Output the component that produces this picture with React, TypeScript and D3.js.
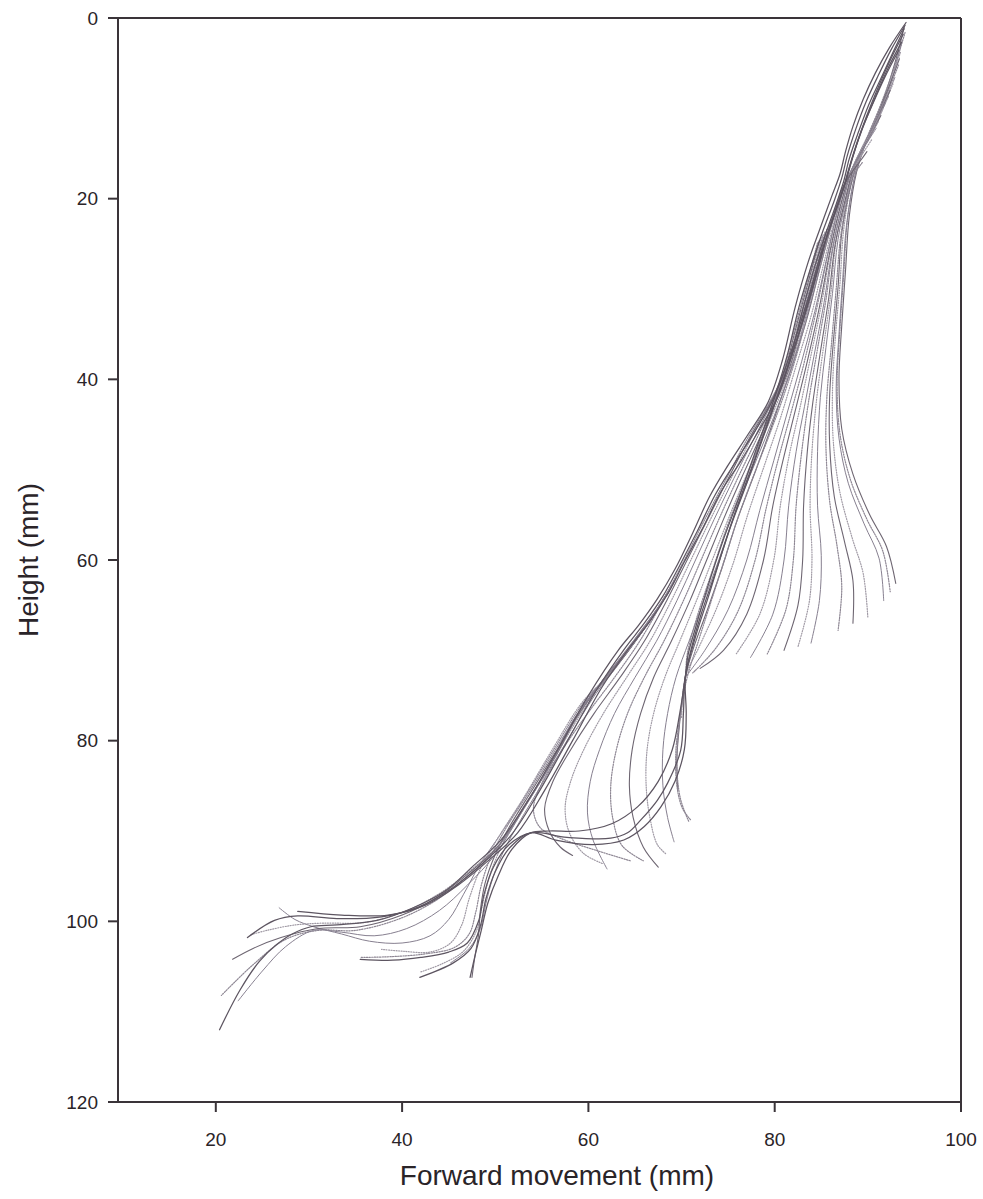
import React from "react";
import * as d3 from "d3";

type Pt = [number, number];

const xTicks = [20, 40, 60, 80, 100];
const yTicks = [0, 20, 40, 60, 80, 100, 120];
const xTitle = "Forward movement (mm)";
const yTitle = "Height (mm)";

// Upper "sail" strokes: tips near the top, bulging right, ending on the lower-right boundary
const upperSail: Pt[][] = [
  [[93.9,1.0],[92.9,5],[91.5,9.5],[89.9,13.5],[88.8,17],[88.0,22],[87.6,28],[87.2,34],[86.9,40],[87.2,45.5],[88.4,50.5],[90.2,55],[92.0,58.5],[93.0,62.6]],
  [[94.0,1.6],[92.8,5.6],[91.3,9.8],[89.7,13.8],[88.6,17.5],[87.8,22.5],[87.4,28.5],[87.0,34.5],[86.7,40.5],[87.0,46],[88.1,51],[89.9,55.5],[91.6,59],[92.4,63.5]],
  [[93.7,2.4],[92.7,6.3],[91.3,10.3],[89.6,14.2],[88.5,18],[87.7,23],[87.3,29],[86.9,35],[86.6,41],[86.9,46.5],[87.9,51.5],[89.6,56],[91.2,59.8],[91.7,64.5]],
  [[93.5,3.8],[92.4,7.3],[91.0,11],[89.3,15],[88.2,18.5],[87.4,23.5],[87.0,29.5],[86.5,35.5],[86.2,41.5],[86.3,47],[87.0,52.5],[88.3,57.5],[89.5,61.5],[90.0,66.4]],
  [[93.4,4.5],[92.2,7.8],[90.8,11.4],[89.1,15.2],[88.1,18.8],[87.2,23.8],[86.8,29.8],[86.3,35.8],[85.9,41.8],[85.9,47.2],[86.4,53],[87.5,58],[88.4,62.3],[88.4,67]],
  [[93.3,5.2],[92.1,8.3],[90.6,11.8],[89.0,15.5],[88.0,19],[87.1,24],[86.6,30],[86.1,36],[85.6,42],[85.5,47.5],[85.9,53.5],[86.7,58.5],[87.2,63],[86.8,67.8]],
  [[92.9,6.6],[91.8,9.3],[90.3,12.5],[88.7,16],[87.8,19.5],[86.8,24.5],[86.2,30.5],[85.5,36.5],[84.9,42],[84.6,48],[84.6,54],[85.0,59.5],[84.8,64.5],[83.9,69.2]],
  [[92.7,7.3],[91.6,9.8],[90.1,12.8],[88.6,16.2],[87.7,19.7],[86.6,24.7],[86.0,30.7],[85.2,36.7],[84.5,42.2],[84.0,48],[83.8,54],[84.0,60],[83.7,64.7],[82.5,69.6]],
  [[92.4,8.0],[91.4,10.3],[90.0,13.2],[88.5,16.5],[87.6,20],[86.5,25],[85.8,31],[84.9,37],[84.1,42.5],[83.5,48],[83.1,54],[83.0,60],[82.5,65],[81.0,70]],
  [[92.2,8.7],[91.2,10.8],[89.8,13.6],[88.3,16.7],[87.4,20.2],[86.3,25.2],[85.5,31.2],[84.5,37.2],[83.6,42.7],[82.9,48],[82.3,54],[82.0,60],[81.2,65.5],[79.2,70.4]],
  [[91.9,9.4],[91.0,11.4],[89.6,14],[88.2,17],[87.3,20.5],[86.2,25.5],[85.3,31.5],[84.2,37.5],[83.2,43],[82.3,48],[81.5,54],[81.0,60],[79.8,66],[77.4,70.8]],
  [[91.6,10.1],[90.8,11.9],[89.4,14.4],[88.1,17.2],[87.1,20.8],[86.0,25.8],[85.0,31.8],[83.8,37.8],[82.7,43.2],[81.6,48.2],[80.6,54],[79.9,60],[78.4,66],[75.8,70.5]],
  [[91.4,10.8],[90.6,12.4],[89.3,14.8],[88.0,17.5],[87.0,21],[85.9,26],[84.8,32],[83.5,38],[82.2,43.5],[81.0,48.5],[79.8,54],[78.8,60],[77.0,66],[74.5,70],[72.0,72]],
  [[91.1,11.5],[90.3,13],[89.1,15.2],[87.8,17.8],[86.8,21.2],[85.7,26.2],[84.5,32.2],[83.2,38],[81.8,43.5],[80.4,48.8],[79.1,54.2],[77.9,60],[76.0,65.8],[73.5,70],[71.2,72.5]],
  [[90.9,12.2],[90.1,13.5],[88.9,15.6],[87.7,18],[86.7,21.5],[85.6,26.5],[84.3,32.5],[82.9,38],[81.4,43.5],[79.9,49],[78.4,54.5],[77.0,60],[75.0,65.5],[72.5,70],[70.4,73]],
  [[90.4,13.5],[89.7,14.6],[88.6,16.4],[87.5,18.5],[86.5,22],[85.3,27],[83.9,33],[82.3,38.5],[80.7,44],[78.9,49.5],[77.1,55],[75.5,60.5],[73.7,65.5],[71.8,69.8],[70.4,73],[70.0,77.5]],
  [[89.9,14.8],[89.2,15.8],[88.2,17.2],[87.2,19],[86.2,22.5],[84.9,27.5],[83.4,33.5],[81.7,39],[79.9,44.5],[78.0,50],[76.0,55.5],[74.3,61],[72.6,66],[71.2,70],[70.4,73],[69.8,78],[69.5,82],[69.6,85.5]],
  [[89.4,16.0],[88.7,17],[87.8,18.3],[86.9,20],[85.9,23],[84.5,28],[82.9,34],[81.0,39.5],[79.1,45],[77.1,50.5],[75.0,56],[73.2,61.5],[71.6,66.5],[70.6,70.5],[70.4,73.5],[69.7,78.5],[69.5,83],[69.9,86.5],[70.8,89]],
];

// Strokes running through both knots (upper knot near 70/73, lower knot near 54/90)
const knotStrokes: Pt[][] = [
  [[93.8,1.8],[92.3,4.9],[90.9,8.2],[89.6,11.6],[88.5,15],[87.6,18.2],[86.7,20.8],[85.8,23.5],[84.7,27.5],[83.3,32.5],[81.6,38],[79.7,43.5],[77.8,49],[76.0,54],[74.4,59],[72.9,64],[71.5,68.5],[70.4,73],[70.2,77],[69.9,81.1],[68.5,84.7],[67.4,86.6],[65.6,88.8],[64.2,90.2],[62.4,90.8],[57.7,90.7],[53.8,90.2],[51.5,91.5],[49.8,94],[48.8,97],[48.2,100],[47,102.4],[45,103.4],[42,104],[39,104.3],[35.5,104.2]],
  [[93.6,2.7],[92.1,5.7],[90.7,9],[89.4,12.3],[88.3,15.6],[87.4,18.8],[86.5,21.4],[85.5,24.5],[84.2,29.5],[82.6,35],[80.8,40.5],[78.9,46],[77.0,51.5],[75.2,56.5],[73.6,61.5],[72.1,66],[71.0,70],[70.4,73],[70.5,77],[70.3,81],[69.3,84.5],[67.8,87.3],[66,89.5],[63.8,91],[60.5,91.5],[56.5,91],[53.8,90.2],[51.6,91.8],[50,94.5],[49,97.5],[48.4,100.5],[47.4,103],[45.5,104.6],[41.9,106.2]],
  [[93.3,3.6],[91.8,6.6],[90.4,9.8],[89.1,13],[88.1,16.2],[87.2,19.4],[86.2,22.5],[85.0,26],[83.6,31],[81.9,36.5],[80.0,42],[78.1,47.5],[76.2,53],[74.4,58],[72.8,63],[71.5,67.5],[70.7,70.5],[70.4,73],[69.8,77],[69.0,81],[67.5,84.5],[65.3,87.3],[62.5,89.2],[59,90],[55.8,90],[53.8,90.2],[51.8,92],[50.3,95],[49.2,98],[48.5,101],[47.9,103.5],[47.3,106.2]],
];

// Full-length strokes along the left edge of the band
const leftEdge: Pt[][] = [
  [[94.1,0.5],[92.3,3.3],[90.8,6.1],[89.5,9],[88.4,12],[87.6,14.8],[87.0,17.3],[86.1,19.8],[84.8,23.5],[83.6,27],[82.2,32],[80.8,38],[79.3,42.5],[77.2,46],[75.0,49.5],[73.0,53],[71.2,57],[69.3,61],[67.4,64.3],[65.4,67.2],[63.2,70],[60.0,75],[56.7,81],[53.6,86.5],[50.6,91],[47.5,94],[44.8,96.5],[41.2,98.5],[37.3,99.9],[33,100.4],[30.2,100.6],[28.2,101.4],[26.5,102.6],[24.7,104.4],[22.6,107.6],[20.4,112]],
  [[94.0,0.8],[92.5,3.5],[91.1,6.4],[89.8,9.3],[88.7,12.3],[87.8,15.2],[87.2,17.7],[86.4,20.2],[85.1,23.8],[84.0,27.2],[82.6,32],[81.3,37.5],[79.9,42],[77.9,45.7],[75.7,49.3],[73.6,52.8],[71.7,56.8],[69.8,60.6],[68.0,64],[66.0,67],[63.9,69.8],[60.8,74.5],[57.5,80.5],[54.5,86],[51.6,90.6],[48.4,93.8],[45.4,96.3],[41.8,98.4],[37.8,99.5],[33,99.7],[28.8,99.4],[26.3,99.9],[23.4,101.8]],
  [[93.9,1.2],[92.7,3.8],[91.4,6.7],[90.1,9.6],[89.0,12.6],[88.0,15.6],[87.4,18.1],[86.6,20.6],[85.4,24.1],[84.3,27.5],[83.0,32.3],[81.7,37.5],[80.4,41.8],[78.5,45.3],[76.4,49],[74.2,52.5],[72.3,56.4],[70.3,60.2],[68.6,63.6],[66.6,66.8],[64.5,69.6],[61.5,74],[58.3,80],[55.3,85.5],[52.4,90.2],[49,93.5],[46,96],[42.5,98.2],[38.5,99.3],[33.5,99.3],[28.8,98.9]],
];

// Middle "sail" strokes sweeping to the right below the upper knot
const middleSail: Pt[][] = [
  [[86.2,22.5],[84.9,27.5],[83.6,32.5],[82.3,37.5],[80.9,42],[79.3,46.5],[77.6,51],[76.0,55.5],[74.6,60],[73.2,64.5],[71.8,69],[70.6,73],[69.9,77],[69.4,81],[69.5,85],[70.1,87.5],[71.0,88.8]],
  [[86.0,22.8],[84.7,27.8],[83.4,32.8],[82.1,37.8],[80.7,42],[79.0,46.5],[77.2,51],[75.5,55.5],[74.0,60],[72.4,64.5],[70.8,69],[69.4,73],[68.5,77],[68.0,81],[68.0,85],[68.5,88.5],[69.2,91.2]],
  [[85.8,23.1],[84.5,28.1],[83.2,33.1],[81.9,38.1],[80.5,42],[78.7,46.5],[76.8,51],[75.0,55.5],[73.3,60],[71.6,64.5],[69.8,69],[68.2,73],[67.0,77],[66.3,81],[66.2,85],[66.6,88.5],[67.4,91.5],[68.4,92.6]],
  [[85.6,23.4],[84.3,28.4],[83.0,33.4],[81.7,38.4],[80.3,42],[78.4,46.5],[76.4,51],[74.5,55.5],[72.7,60],[70.9,64.5],[68.9,69],[67.0,73],[65.6,77],[64.7,81],[64.4,85],[64.8,88.5],[65.9,91.8],[67.5,94]],
  [[85.4,23.7],[84.1,28.7],[82.8,33.7],[81.5,38.7],[80.1,42],[78.1,46.5],[76.0,51],[74.0,55.5],[72.1,60],[70.2,64.5],[68.1,69],[66.0,73],[64.2,77],[63.0,81],[62.4,85],[62.6,88.5],[63.6,91.6],[65.9,93.3]],
  [[85.2,24],[83.9,29],[82.6,34],[81.3,39],[79.9,42.2],[77.8,46.5],[75.6,51],[73.5,55.5],[71.5,60],[69.5,64.5],[67.3,69],[65.0,73],[62.8,77],[61.2,81],[60.2,84.5],[59.9,88],[60.5,91],[62,94.2]],
  [[85.0,24.3],[83.7,29.3],[82.4,34.3],[81.1,39.3],[79.7,42.4],[77.5,46.5],[75.3,51],[73.1,55.5],[71.0,60],[68.9,64.5],[66.6,69],[64.1,73],[61.6,77],[59.5,81],[58.1,84.5],[57.5,87.5],[58.0,90.3],[59.5,92.5],[61.5,93.6]],
  [[84.8,24.6],[83.5,29.6],[82.2,34.6],[80.9,39.6],[79.5,42.6],[77.3,46.5],[75.0,51],[72.8,55.5],[70.6,60],[68.4,64.5],[66.0,69],[63.4,73],[60.6,77],[58.1,81],[56.2,84.5],[55.3,87.5],[55.8,90],[57.0,91.8],[58.3,92.7]],
  [[84.6,24.9],[83.3,29.9],[82.0,34.9],[80.7,39.9],[79.3,42.8],[77.1,46.5],[74.8,51],[72.5,55.5],[70.3,60],[68.0,64.5],[65.5,69],[62.8,73],[59.9,77],[57.2,81],[55.1,84.5],[54.1,87.5],[54.8,89.6],[57,90.8],[61,92.2],[64.5,93.3]],
];

// Lower "sail" strokes below the lower knot
const lowerSail: Pt[][] = [
  [[69.4,62],[67.4,65.5],[65.2,68.8],[62.9,72],[60.8,74.8],[57.7,80],[54.9,85],[52.6,89],[51.0,92],[49.8,95],[49.0,98],[48.4,100.8],[47.2,103],[45.2,104.6]],
  [[69.3,62.2],[67.2,65.7],[65.0,69],[62.7,72.2],[60.5,75],[57.3,80.2],[54.4,85.2],[52.0,89.2],[50.4,92.3],[49.3,95.3],[48.6,98.3],[48.0,101],[46.6,103.3],[44.3,104.7],[42.0,105.6]],
  [[69.2,62.4],[67.1,65.9],[64.9,69.2],[62.5,72.4],[60.2,75.2],[57.0,80.4],[54.0,85.4],[51.6,89.4],[50.0,92.6],[48.9,95.8],[48.4,98.8],[48.2,101.5],[47.8,104],[47.5,106.2]],
  [[69.1,62.6],[67.0,66.1],[64.7,69.4],[62.3,72.6],[59.9,75.4],[56.7,80.6],[53.7,85.6],[51.2,89.6],[49.5,92.9],[48.5,96],[47.9,99],[47.2,101.4],[45.6,102.9],[42.5,103.6],[39,103.9],[35.5,104]],
  [[69.0,62.8],[66.9,66.3],[64.6,69.6],[62.1,72.8],[59.6,75.6],[56.4,80.8],[53.3,86],[50.6,90.3],[48.3,93.8],[46.6,97],[45,99.8],[43,101.6],[40,102.4],[36.5,102.2],[33.5,101.4],[30.5,100.6],[28.5,99.8],[26.8,98.5]],
  [[68.9,63],[66.7,66.5],[64.4,69.8],[61.9,73],[59.3,75.8],[56.0,81.2],[53.0,86.4],[50.4,90.6],[48.4,94.2],[47.2,97.5],[46.4,100.4],[45.2,102.4],[43.0,103.4],[40.0,103.3],[37.8,103.1]],
];

// Tail strokes toward the lower-left ends
const tailStrokes: Pt[][] = [
  [[68.8,63.2],[66.6,66.6],[64.2,70],[61.6,73.4],[59.0,77],[56.9,81],[53.6,86.6],[50.6,91.3],[47.4,94.3],[44.2,96.8],[40.5,98.8],[36.2,100.1],[31.5,100.2],[28.5,100.4],[25.5,101],[23.7,101.5]],
  [[68.7,63.4],[66.5,66.8],[64.0,70.2],[61.4,73.6],[58.7,77.4],[56.6,81.5],[53.3,87],[50.3,91.7],[47,94.8],[43.8,97.3],[40,99.3],[35.5,100.6],[31,100.8],[27,101.8],[24,103],[21.8,104.2]],
  [[68.6,63.6],[66.3,67],[63.8,70.4],[61.2,73.8],[58.4,77.8],[56.3,82],[53,87.4],[50,92.2],[46.7,95.3],[43.3,97.9],[39.5,99.8],[35,101],[31,101],[27.5,102],[24,104.8],[20.6,108.2]],
  [[68.5,63.8],[66.1,67.2],[63.6,70.6],[61.0,74],[58.1,78.2],[56,82.5],[52.8,88],[50,92.6],[47,96],[44,98.8],[40.5,100.8],[37,101.6],[33.5,101.2],[30.5,101],[27.5,102.8],[25,105.5],[22.4,108.8]],
];

const W = 983;
const H = 1199;

const x = d3.scaleLinear().domain([9.5, 100]).range([118, 961]);
const y = d3.scaleLinear().domain([0, 120]).range([18, 1102]);

const line = d3
  .line<Pt>()
  .x((d) => x(d[0]))
  .y((d) => y(d[1]))
  .curve(d3.curveCatmullRom.alpha(0.5));

const styles = [
  { stroke: "#6e6672", width: 1.1, dash: undefined as string | undefined },
  { stroke: "#8e8794", width: 1.2, dash: "1.3 1.3" },
  { stroke: "#878090", width: 1.0, dash: undefined },
  { stroke: "#a09aa5", width: 1.2, dash: "1 1.5" },
];

const axisColor = "#3a3439";
const textColor = "#2a2428";

export default function App() {
  const groups: { data: Pt[][]; offset: number; dark?: boolean }[] = [
    { data: upperSail, offset: 0 },
    { data: middleSail, offset: 1 },
    { data: lowerSail, offset: 2 },
    { data: tailStrokes, offset: 3 },
    { data: knotStrokes, offset: 0, dark: true },
    { data: leftEdge, offset: 0, dark: true },
  ];
  const [x0, x1] = x.range();
  const [y0, y1] = y.range();
  return (
    <svg width={W} height={H} style={{ display: "block", position: "absolute", left: 0, top: 0, background: "#fff" }} fontFamily="'Liberation Sans', Arial, sans-serif">
      <g>
        {groups.map((g, gi) =>
          g.data.map((c, ci) => {
            const s = g.dark ? { stroke: "#5d5561", width: 1.25, dash: undefined } : styles[(ci + g.offset) % styles.length];
            return (
              <path
                key={`${gi}-${ci}`}
                d={line(c) || ""}
                fill="none"
                stroke={s.stroke}
                strokeWidth={s.width}
                strokeDasharray={s.dash}
                strokeLinecap="round"
              />
            );
          })
        )}
      </g>
      <g stroke={axisColor} strokeWidth={2} fill="none">
        <line x1={x0} y1={y0} x2={x1} y2={y0} />
        <line x1={x1} y1={y0} x2={x1} y2={y1} />
        <line x1={x0} y1={y1} x2={x1} y2={y1} />
        <line x1={x0} y1={y0} x2={x0} y2={y1} />
      </g>
      <g>
        {yTicks.map((t) => (
          <g key={t}>
            <line x1={x0 - 10} x2={x0} y1={y(t)} y2={y(t)} stroke={axisColor} strokeWidth={2} />
            <text x={x0 - 20} y={y(t)} dy="0.35em" textAnchor="end" fontSize={19} fill={textColor}>
              {t}
            </text>
          </g>
        ))}
      </g>
      <g>
        {xTicks.map((t) => (
          <g key={t}>
            <line x1={x(t)} x2={x(t)} y1={y1} y2={y1 + 10} stroke={axisColor} strokeWidth={2} />
            <text x={x(t)} y={y1 + 44} textAnchor="middle" fontSize={19} fill={textColor}>
              {t}
            </text>
          </g>
        ))}
      </g>
      <text x={557} y={1185} textAnchor="middle" fontSize={28} fill={textColor}>
        {xTitle}
      </text>
      <text transform={`translate(38, ${(y0 + y1) / 2}) rotate(-90)`} textAnchor="middle" fontSize={28} fill={textColor}>
        {yTitle}
      </text>
    </svg>
  );
}
